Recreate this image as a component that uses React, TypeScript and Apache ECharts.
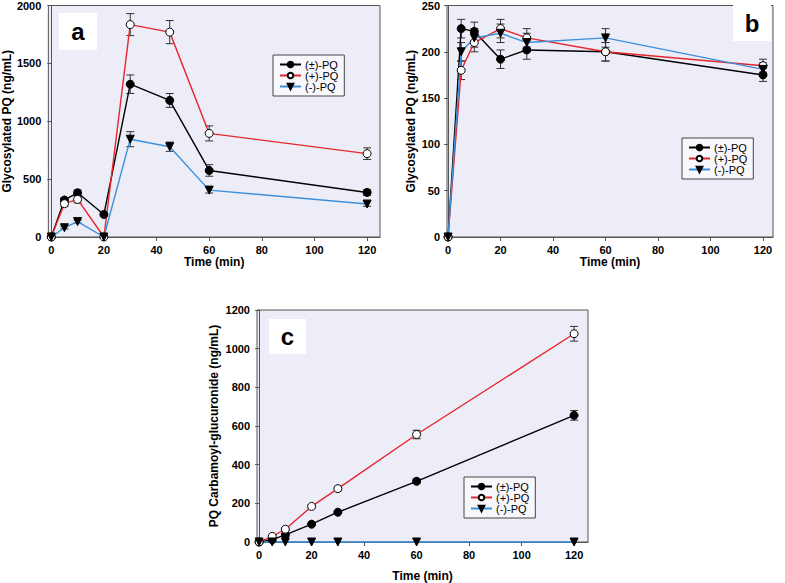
import React, { useEffect, useRef } from "react";
import * as echarts from "echarts";

const TIME_A = [0, 5, 10, 20, 30, 45, 60, 120];
const TIME_BC = [0, 5, 10, 20, 30, 60, 120];
const X_TICKS = [0, 20, 40, 60, 80, 100, 120];
const SERIES_NAMES = ["(±)-PQ", "(+)-PQ", "(-)-PQ"];

// Panel a
const A_RAC = [0, 320, 382, 195, 1320, 1180, 575, 385];
const A_RAC_ERR = [0, 20, 25, 15, 80, 60, 50, 25];
const A_PLUS = [0, 288, 325, 0, 1835, 1770, 895, 720];
const A_PLUS_ERR = [0, 25, 30, 0, 95, 100, 65, 50];
const A_MINUS = [0, 80, 133, 0, 845, 780, 405, 285];
const A_MINUS_ERR = [0, 10, 12, 0, 65, 40, 25, 20];

// Panel b
const B_RAC = [0, 225, 222, 192, 202, 200, 175];
const B_RAC_ERR = [0, 10, 10, 10, 10, 10, 7];
const B_PLUS = [0, 180, 210, 225, 215, 200, 185];
const B_PLUS_ERR = [0, 10, 10, 10, 10, 10, 7];
const B_MINUS = [0, 200, 215, 220, 210, 215, 181];
const B_MINUS_ERR = [0, 10, 10, 10, 10, 10, 7];

// Panel c
const C_RAC = [0, 12, 37, 92, 154, 314, 655];
const C_RAC_ERR = [0, 0, 5, 5, 6, 12, 25];
const C_PLUS = [0, 29, 66, 184, 276, 556, 1077];
const C_PLUS_ERR = [0, 5, 6, 8, 12, 22, 38];
const C_MINUS = [0, 0, 0, 0, 0, 0, 0];

const LINE_COLORS = ["#000000", "#e8252b", "#3a90dc"];
const FONT = "Liberation Sans, Arial, sans-serif";
const BG = "#ededf8";

function pairs(xs: number[], ys: number[]) {
  return xs.map((x, i) => [x, ys[i]]);
}
function errData(xs: number[], ys: number[], es: number[]) {
  return xs
    .map((x, i) => [x, ys[i] - es[i], ys[i] + es[i], es[i]])
    .filter((d) => d[3] > 0);
}

export default function App() {
  const ref = useRef<HTMLDivElement>(null);
  useEffect(() => {
    if (!ref.current) return;
    const chart = echarts.init(ref.current, null, { renderer: "svg" });

    const gridDefs = [
      { left: 48, top: 5, width: 332, height: 232 },
      { left: 447, top: 5, width: 326, height: 232 },
      { left: 257, top: 310, width: 331, height: 232 },
    ];
    const xRanges = [
      [-1.1, 124.9],
      [-0.4, 123.8],
      [-0.8, 125.3],
    ];
    const yDefs = [
      { max: 2000, interval: 500, name: "Glycosylated PQ (ng/mL)", gap: 34 },
      { max: 250, interval: 50, name: "Glycosylated PQ (ng/mL)", gap: 30 },
      { max: 1200, interval: 200, name: "PQ Carbamoyl-glucuronide (ng/mL)", gap: 37 },
    ];
    const xNameGaps = [19, 19, 28];

    const grid = gridDefs.map((g) => ({
      ...g,
      show: true,
      backgroundColor: BG,
      borderColor: "#555",
      borderWidth: 1,
      containLabel: false,
    }));

    const xAxis = xRanges.map((r, i) => ({
      type: "value",
      gridIndex: i,
      min: r[0],
      max: r[1],
      name: "Time (min)",
      nameLocation: "middle",
      nameGap: xNameGaps[i],
      nameTextStyle: { fontFamily: FONT, fontWeight: "bold", fontSize: 12, color: "#000" },
      splitLine: { show: false },
      axisLine: { show: true, onZero: false, lineStyle: { color: "#555", width: 1 } },
      axisTick: { show: true, inside: false, length: 4, customValues: X_TICKS, lineStyle: { color: "#555" } },
      axisLabel: {
        customValues: X_TICKS,
        formatter: (v: number) => String(v),
        fontFamily: FONT,
        fontWeight: "bold",
        fontSize: 11,
        color: "#000",
        margin: 7,
      },
    }));

    const yAxis = yDefs.map((y, i) => ({
      type: "value",
      gridIndex: i,
      min: 0,
      max: y.max,
      interval: y.interval,
      name: y.name,
      nameLocation: "middle",
      nameGap: y.gap,
      nameTextStyle: { fontFamily: FONT, fontWeight: "bold", fontSize: 12, color: "#000" },
      splitLine: { show: false },
      axisLine: { show: true, lineStyle: { color: "#555", width: 1 } },
      axisTick: { show: true, inside: false, length: 4, lineStyle: { color: "#555" } },
      axisLabel: {
        formatter: (v: number) => String(v),
        fontFamily: FONT,
        fontWeight: "bold",
        fontSize: 11,
        color: "#000",
        margin: 7,
      },
    }));

    const symbolStyles = [
      { symbol: "circle", symbolRotate: 0, itemStyle: { color: "#000", borderColor: "#000", borderWidth: 1 } },
      { symbol: "circle", symbolRotate: 0, itemStyle: { color: "#ffffff", borderColor: "#000", borderWidth: 1 } },
      { symbol: "triangle", symbolRotate: 180, itemStyle: { color: "#000", borderColor: "#000", borderWidth: 1 } },
    ];

    const panels = [
      { xs: TIME_A, ys: [A_RAC, A_PLUS, A_MINUS], es: [A_RAC_ERR, A_PLUS_ERR, A_MINUS_ERR] },
      { xs: TIME_BC, ys: [B_RAC, B_PLUS, B_MINUS], es: [B_RAC_ERR, B_PLUS_ERR, B_MINUS_ERR] },
      { xs: TIME_BC, ys: [C_RAC, C_PLUS, C_MINUS], es: [C_RAC_ERR, C_PLUS_ERR, C_MINUS.map(() => 0)] },
    ];

    const series: any[] = [];
    panels.forEach((p, gi) => {
      p.ys.forEach((ys, si) => {
        series.push({
          type: "custom",
          name: "err" + gi + si,
          xAxisIndex: gi,
          yAxisIndex: gi,
          z: 1,
          silent: true,
          data: errData(p.xs, ys, p.es[si]),
          renderItem: (params: any, api: any) => {
            const x = api.value(0);
            const lo = api.coord([x, api.value(1)]);
            const hi = api.coord([x, api.value(2)]);
            const w = 4;
            const style = { stroke: "#333", lineWidth: 1 };
            return {
              type: "group",
              children: [
                { type: "line", shape: { x1: lo[0], y1: lo[1], x2: hi[0], y2: hi[1] }, style },
                { type: "line", shape: { x1: lo[0] - w, y1: lo[1], x2: lo[0] + w, y2: lo[1] }, style },
                { type: "line", shape: { x1: hi[0] - w, y1: hi[1], x2: hi[0] + w, y2: hi[1] }, style },
              ],
            };
          },
        });
      });
      p.ys.forEach((ys, si) => {
        series.push({
          type: "line",
          name: SERIES_NAMES[si],
          xAxisIndex: gi,
          yAxisIndex: gi,
          z: 2,
          data: pairs(p.xs, ys),
          symbol: symbolStyles[si].symbol,
          symbolRotate: symbolStyles[si].symbolRotate,
          symbolSize: 8,
          showAllSymbol: true,
          clip: false,
          lineStyle: { color: LINE_COLORS[si], width: 1.4 },
          itemStyle: symbolStyles[si].itemStyle,
        });
      });
    });

    const legendBase = {
      orient: "vertical",
      data: SERIES_NAMES,
      itemWidth: 21,
      itemHeight: 7,
      itemGap: 0,
      padding: [4, 6, 4, 6],
      borderColor: "#444",
      borderWidth: 1,
      backgroundColor: "#f8f8fc",
      selectedMode: false,
      textStyle: { fontFamily: FONT, fontSize: 11, lineHeight: 11, color: "#000", padding: [0, 0, 0, -1] },
    };
    const legend = [
      { ...legendBase, left: 273, top: 55 },
      { ...legendBase, left: 682, top: 138 },
      { ...legendBase, left: 464, top: 477 },
    ];

    const labelBox = (x: number, y: number, w: number, h: number, t: string) => ({
      type: "group",
      left: x,
      top: y,
      z: 10,
      children: [
        { type: "rect", shape: { x: 0, y: 0, width: w, height: h }, style: { fill: "#ffffff" } },
        {
          type: "text",
          x: w / 2,
          y: h / 2,
          style: {
            text: t,
            fontFamily: FONT,
            fontWeight: "bold",
            fontSize: 24,
            fill: "#000",
            align: "center",
            verticalAlign: "middle",
          },
        },
      ],
    });

    chart.setOption({
      animation: false,
      backgroundColor: "#ffffff",
      grid,
      xAxis,
      yAxis,
      legend,
      series,
      graphic: [
        labelBox(59, 13, 38, 37, "a"),
        labelBox(733, 5, 38, 36, "b"),
        labelBox(269, 319, 37, 35, "c"),
      ],
    });
    return () => chart.dispose();
  }, []);
  return (
    <div
      ref={ref}
      style={{ position: "fixed", left: 0, top: 0, width: 785, height: 583, background: "#fff" }}
    />
  );
}
